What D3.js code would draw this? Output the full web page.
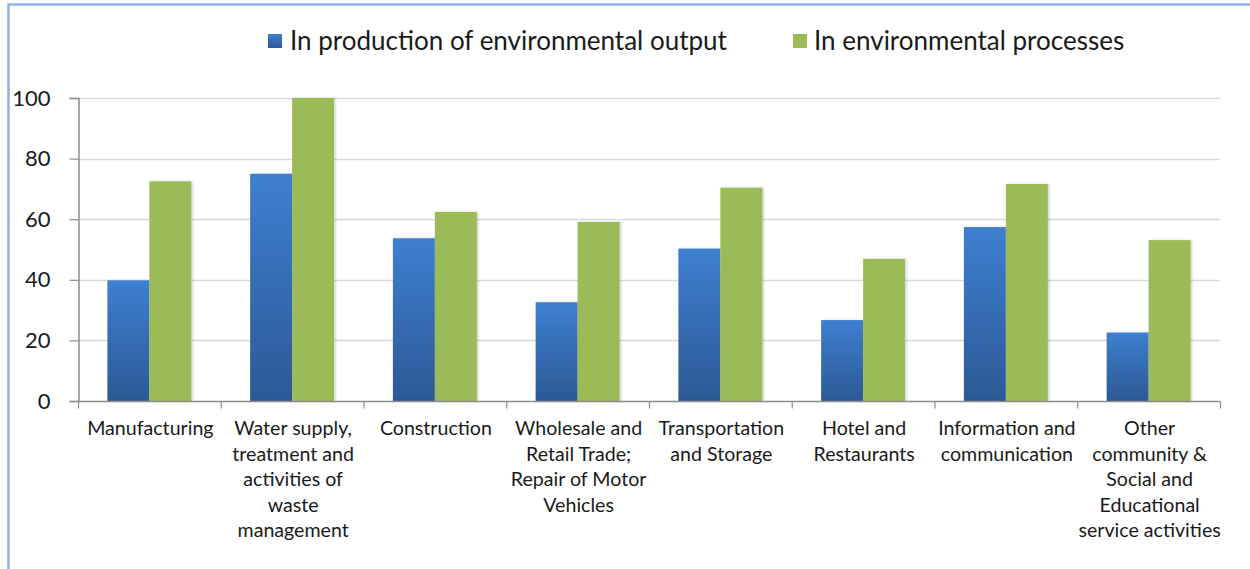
<!DOCTYPE html>
<html><head><meta charset="utf-8">
<script src="https://cdn.jsdelivr.net/npm/d3@7/dist/d3.min.js"></script>
<style>body{margin:0;background:#fff}svg{display:block}text{font-family:Lato,"Open Sans",sans-serif;fill:#1a1a1a}</style>
</head><body><svg id="c" width="1250" height="569"></svg>
<script>
const categories = [
  ["Manufacturing"],
  ["Water supply,","treatment and","activities of","waste","management"],
  ["Construction"],
  ["Wholesale and","Retail Trade;","Repair of Motor","Vehicles"],
  ["Transportation","and Storage"],
  ["Hotel and","Restaurants"],
  ["Information and","communication"],
  ["Other","community &","Social and","Educational","service activities"]
];
const seriesNames = ["In production of environmental output","In environmental processes"];
const production = [39.8, 75.0, 53.7, 32.6, 50.3, 26.7, 57.4, 22.6];
const processes  = [72.5, 100, 62.4, 59.1, 70.4, 46.9, 71.6, 53.1];
const yTicks = [0, 20, 40, 60, 80, 100];

const svg = d3.select("#c");
const pL = 78, pR = 1220, pT = 98, pB = 401;

// frame
svg.append("path").attr("d","M8.5,569 V4.5 H1250").attr("fill","none").attr("stroke","#8fb4e3").attr("stroke-width",2.5);

const defs = svg.append("defs");
const g1 = defs.append("linearGradient").attr("id","gb").attr("x1",0).attr("y1",0).attr("x2",0).attr("y2",1);
g1.append("stop").attr("offset","0%").attr("stop-color","#3e7fd0");
g1.append("stop").attr("offset","100%").attr("stop-color","#2c5995");
const f = defs.append("filter").attr("id","sh").attr("x","-20%").attr("y","-5%").attr("width","140%").attr("height","110%");
f.append("feDropShadow").attr("dx",1.5).attr("dy",0).attr("stdDeviation",1.2).attr("flood-color","#000").attr("flood-opacity",0.18);

const x = d3.scaleBand().domain(d3.range(categories.length)).range([pL, pR]).paddingInner(0).paddingOuter(0);
const inner = d3.scaleBand().domain([0,1]).range([0, x.bandwidth()]).paddingOuter(0.7).paddingInner(0);
const y = d3.scaleLinear().domain([0,100]).range([pB, pT]);

// gridlines
svg.append("g").selectAll("line").data(yTicks.slice(1)).join("line")
  .attr("x1",pL).attr("x2",pR).attr("y1",d=>Math.round(y(d))+0.5).attr("y2",d=>Math.round(y(d))+0.5)
  .attr("stroke","#d9d9d9").attr("stroke-width",1.5);

// y axis
const ya = svg.append("g").attr("transform",`translate(${pL+0.5},0)`)
  .call(d3.axisLeft(y).tickValues(yTicks).tickSize(9).tickPadding(19));
ya.select(".domain").attr("stroke","#8c8c8c").attr("stroke-width",1.5);
ya.selectAll(".tick line").attr("stroke","#8c8c8c").attr("stroke-width",1.2);
ya.selectAll("text").attr("font-size",22).attr("font-family","Lato,sans-serif").attr("fill","#1a1a1a");

// bars
const groups = svg.append("g").selectAll("g").data(categories).join("g")
  .attr("transform",(d,i)=>`translate(${x(i)},0)`);
groups.append("rect").attr("x",inner(0)).attr("width",inner.bandwidth())
  .attr("y",(d,i)=>y(production[i])).attr("height",(d,i)=>y(0)-y(production[i]))
  .attr("fill","url(#gb)").attr("filter","url(#sh)");
groups.append("rect").attr("x",inner(1)).attr("width",inner.bandwidth())
  .attr("y",(d,i)=>y(processes[i])).attr("height",(d,i)=>y(0)-y(processes[i]))
  .attr("fill","#9bbb59").attr("filter","url(#sh)");

// x axis
const xa = d3.axisBottom(d3.scaleLinear().domain([0,categories.length]).range([pL,pR]))
  .tickValues(d3.range(categories.length+1)).tickSize(7).tickFormat("");
const xg = svg.append("g").attr("transform",`translate(0,${pB+0.5})`).call(xa);
xg.select(".domain").attr("d",`M${pL},0H${pR}`).attr("stroke","#8c8c8c").attr("stroke-width",1.5);
xg.selectAll(".tick line").attr("stroke","#8c8c8c").attr("stroke-width",1.2);

// category labels
groups.append("text").attr("text-anchor","middle").attr("font-size",19.6)
  .attr("x",x.bandwidth()/2+1).attr("y",435)
  .selectAll("tspan").data(d=>d).join("tspan")
  .attr("x",x.bandwidth()/2+1).attr("dy",(d,i)=>i===0?0:25.5).text(d=>d);

// legend
const leg = [{c:"url(#gb)",x:268,tx:290},{c:"#9bbb59",x:793,tx:814}];
leg.forEach((l,i)=>{
  svg.append("rect").attr("x",l.x).attr("y",34).attr("width",14).attr("height",14).attr("fill",l.c);
  svg.append("text").attr("x",l.tx).attr("y",50).attr("font-size",26).text(seriesNames[i]);
});
</script></body></html>
